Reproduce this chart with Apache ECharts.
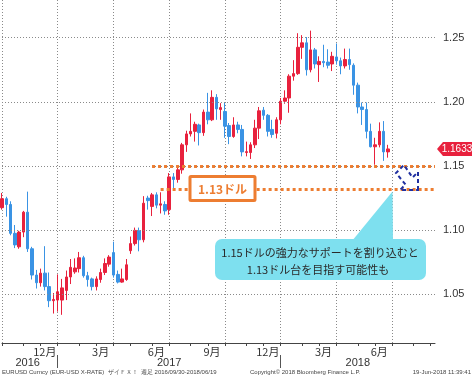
<!DOCTYPE html>
<html><head><meta charset="utf-8">
<script src="https://cdn.jsdelivr.net/npm/echarts@6/dist/echarts.min.js"></script>
<style>html,body{margin:0;padding:0;background:#fff}#c{width:475px;height:379px}</style>
</head><body><div id="c"></div>
<script>
// Week-ending dates (category axis), incl. empty future weeks to the right edge
const weeks = [
 '2016-09-30','2016-10-07','2016-10-14','2016-10-21','2016-10-28','2016-11-04','2016-11-11','2016-11-18','2016-11-25','2016-12-02',
 '2016-12-09','2016-12-16','2016-12-23','2016-12-30','2017-01-06','2017-01-13','2017-01-20','2017-01-27','2017-02-03','2017-02-10',
 '2017-02-17','2017-02-24','2017-03-03','2017-03-10','2017-03-17','2017-03-24','2017-03-31','2017-04-07','2017-04-14','2017-04-21',
 '2017-04-28','2017-05-05','2017-05-12','2017-05-19','2017-05-26','2017-06-02','2017-06-09','2017-06-16','2017-06-23','2017-06-30',
 '2017-07-07','2017-07-14','2017-07-21','2017-07-28','2017-08-04','2017-08-11','2017-08-18','2017-08-25','2017-09-01','2017-09-08',
 '2017-09-15','2017-09-22','2017-09-29','2017-10-06','2017-10-13','2017-10-20','2017-10-27','2017-11-03','2017-11-10','2017-11-17',
 '2017-11-24','2017-12-01','2017-12-08','2017-12-15','2017-12-22','2017-12-29','2018-01-05','2018-01-12','2018-01-19','2018-01-26',
 '2018-02-02','2018-02-09','2018-02-16','2018-02-23','2018-03-02','2018-03-09','2018-03-16','2018-03-23','2018-03-30','2018-04-06',
 '2018-04-13','2018-04-20','2018-04-27','2018-05-04','2018-05-11','2018-05-18','2018-05-25','2018-06-01','2018-06-08','2018-06-15',
 '2018-06-22','2018-06-29','2018-07-06','2018-07-13','2018-07-20','2018-07-27','2018-08-03','2018-08-10','2018-08-17','2018-08-24',
 '2018-08-31','2018-09-07'
];
const opens = [
 1.1175,1.1245,1.1200,1.0975,1.0870,1.0985,1.1140,1.0855,1.0650,1.0590,
 1.0665,1.0560,1.0450,1.0455,1.0455,1.0530,1.0635,1.0675,1.0700,1.0785,
 1.0645,1.0620,1.0560,1.0615,1.0670,1.0735,1.0825,1.0655,1.0595,1.0615,
 1.0840,1.0895,1.0995,1.0925,1.1250,1.1185,1.1275,1.1195,1.1200,1.1160,
 1.1415,1.1395,1.1470,1.1665,1.1750,1.1770,1.1820,1.1760,1.1920,1.1860,
 1.2035,1.1940,1.1925,1.1815,1.1730,1.1820,1.1785,1.1605,1.1605,1.1665,
 1.1795,1.1935,1.1895,1.1785,1.1755,1.1860,1.2005,1.2030,1.2200,1.2220,
 1.2425,1.2460,1.2250,1.2405,1.2290,1.2315,1.2310,1.2295,1.2350,1.2320,
 1.2280,1.2330,1.2285,1.2130,1.1960,1.1940,1.1770,1.1650,1.1665,1.1770,
 1.1610
];
const closes = [
 1.1245,1.1200,1.0975,1.0885,1.0985,1.1140,1.0855,1.0650,1.0590,1.0665,
 1.0560,1.0450,1.0460,1.0520,1.0550,1.0635,1.0710,1.0705,1.0785,1.0645,
 1.0615,1.0560,1.0620,1.0670,1.0740,1.0790,1.0650,1.0595,1.0620,1.0730,
 1.0895,1.0998,1.0925,1.1210,1.1230,1.1275,1.1195,1.1205,1.1150,1.1415,
 1.1395,1.1470,1.1665,1.1750,1.1770,1.1825,1.1760,1.1920,1.1860,1.2035,
 1.1945,1.1955,1.1810,1.1730,1.1820,1.1785,1.1610,1.1612,1.1665,1.1795,
 1.1930,1.1895,1.1770,1.1745,1.1860,1.2005,1.2030,1.2200,1.2220,1.2425,
 1.2460,1.2250,1.2405,1.2295,1.2315,1.2305,1.2285,1.2355,1.2320,1.2280,
 1.2330,1.2290,1.2130,1.1960,1.1940,1.1770,1.1650,1.1665,1.1770,1.1610,
 1.1633
];
const lows = [
 1.1160,1.1105,1.0960,1.0860,1.0855,1.0945,1.0830,1.0615,1.0545,1.0560,
 1.0530,1.0400,1.0350,1.0365,1.0340,1.0455,1.0580,1.0660,1.0670,1.0630,
 1.0560,1.0530,1.0530,1.0590,1.0650,1.0715,1.0630,1.0585,1.0590,1.0605,
 1.0815,1.0880,1.0835,1.0905,1.1160,1.1110,1.1170,1.1130,1.1120,1.1120,
 1.1315,1.1370,1.1440,1.1610,1.1730,1.1690,1.1660,1.1735,1.1825,1.1850,
 1.1860,1.1860,1.1720,1.1670,1.1720,1.1755,1.1575,1.1575,1.1555,1.1640,
 1.1710,1.1860,1.1730,1.1720,1.1715,1.1825,1.1985,1.1915,1.2165,1.2210,
 1.2335,1.2205,1.2230,1.2260,1.2155,1.2270,1.2260,1.2240,1.2290,1.2215,
 1.2260,1.2250,1.2055,1.1910,1.1820,1.1715,1.1645,1.1510,1.1645,1.1540,
 1.1565
];
const highs = [
 1.1290,1.1260,1.1225,1.1040,1.0995,1.1150,1.1300,1.0870,1.0690,1.0700,
 1.0875,1.0670,1.0510,1.0655,1.0620,1.0685,1.0775,1.0780,1.0830,1.0800,
 1.0675,1.0630,1.0640,1.0700,1.0780,1.0805,1.0910,1.0685,1.0700,1.0775,
 1.0950,1.1020,1.1020,1.1265,1.1268,1.1290,1.1295,1.1295,1.1225,1.1445,
 1.1445,1.1490,1.1680,1.1775,1.1910,1.1845,1.1830,1.1940,1.2070,1.2090,
 1.2060,1.1990,1.1995,1.1835,1.1880,1.1845,1.1820,1.1690,1.1685,1.1860,
 1.1960,1.1960,1.1905,1.1860,1.1880,1.2030,1.2090,1.2215,1.2325,1.2535,
 1.2520,1.2505,1.2555,1.2420,1.2355,1.2445,1.2410,1.2390,1.2455,1.2345,
 1.2415,1.2415,1.2300,1.2150,1.1995,1.1995,1.1830,1.1720,1.1840,1.1850,
 1.1665
];
const yTicks = [1.05, 1.10, 1.15, 1.20, 1.25];
const yRange = [1.01204, 1.27938];
const supportLevels = [1.15, 1.1318];
const supportFrom = ['2017-06-02', '2017-06-16'];
const calloutLines = ['1.15ドルの強力なサポートを割り込むと', '1.13ドル台を目指す可能性も'];
const boxLabel = '1.13ドル';
const footLeft = 'EURUSD Curncy (EUR-USD X-RATE)  ザイＦＸ！  週足 2016/09/30-2018/06/19';
const footMid = 'Copyright© 2018 Bloomberg Finance L.P.';
const footRight = '19-Jun-2018 11:39:41';

const UP = '#e8213d', DOWN = '#3a93e4', ORANGE = '#ed7d31';
const candles = opens.map((o, i) => [o, closes[i], lows[i], highs[i]]);
const lastClose = closes[closes.length - 1];

// axis helpers derived from categories
function shiftedMonth(s, days) {
  const d = new Date(s + 'T00:00:00Z'); d.setUTCDate(d.getUTCDate() + days);
  return [d.getUTCFullYear(), d.getUTCMonth() + 1];
}
const monthTick = new Set(), quarterLine = new Set(), yearSep = new Set();
weeks.forEach((w, i) => {
  const [, m] = shiftedMonth(w, 3), [, pm] = shiftedMonth(w, -4);
  if (m !== pm) { monthTick.add(i); if ([1,4,7,10].includes(m)) quarterLine.add(i); if (m === 1) yearSep.add(i); }
});
const monthLabel = new Set();
weeks.forEach((w, i) => { const m = +w.slice(5,7), d = +w.slice(8,10); if (m % 3 === 0 && d >= 8 && d <= 14) monthLabel.add(i); });
const bounds = [0, ...[...yearSep].sort((a,b)=>a-b), weeks.length - 1];
const yearLabel = new Map();
for (let k = 0; k < bounds.length - 1; k++) {
  const mid = Math.floor((bounds[k] + bounds[k+1]) / 2);
  yearLabel.set(mid, shiftedMonth(weeks[mid], 3)[0]);
}

const chart = echarts.init(document.getElementById('c'), null, {renderer: 'canvas'});
const gridLine = {color: '#8a8a8a', width: 1, type: [1, 2]};
chart.setOption({
  animation: false,
  backgroundColor: '#fff',
  textStyle: {fontFamily: 'Liberation Sans'},
  grid: {left: 2, right: 40, top: 0, bottom: 36, containLabel: false},
  xAxis: [{
    type: 'category', data: weeks, boundaryGap: false, position: 'bottom',
    axisLine: {lineStyle: {color: '#444', width: 1}},
    axisTick: {show: true, length: 3, interval: (i) => monthTick.has(i), lineStyle: {color: '#444'}},
    axisLabel: {interval: (i) => monthLabel.has(i), formatter: (v) => (+v.slice(5,7)) + '月',
      color: '#333', fontSize: 11, margin: 3, fontFamily: 'Noto Sans CJK JP'},
    splitLine: {show: true, interval: (i) => quarterLine.has(i), lineStyle: gridLine}
  }, {
    type: 'category', data: weeks, boundaryGap: false, position: 'bottom', offset: 12,
    axisLine: {show: false},
    axisTick: {show: true, length: 13, interval: (i) => yearSep.has(i), lineStyle: {color: '#555'}},
    axisLabel: {interval: (i) => yearLabel.has(i), formatter: (v, i) => String(yearLabel.get(i) ?? ''),
      color: '#333', fontSize: 11, margin: 2},
    splitLine: {show: false}
  }],
  yAxis: {
    type: 'value', position: 'right', min: yRange[0], max: yRange[1],
    splitLine: {show: false}, axisLine: {show: false}, axisTick: {show: false},
    axisLabel: {showMinLabel: false, showMaxLabel: false, formatter: (v) => v.toFixed(2),
      color: '#333', fontSize: 11, margin: 8}
  },
  series: [{
    type: 'line', data: [], z: 1, silent: true,
    markLine: {silent: true, symbol: ['none','none'], label: {show: false},
      lineStyle: gridLine, data: yTicks.map(v => ({yAxis: v}))}
  }, {
    type: 'candlestick', data: candles, barWidth: 3, clip: false, z: 3,
    itemStyle: {color: UP, color0: DOWN, borderColor: UP, borderColor0: DOWN, borderWidth: 1},
    markLine: {silent: true, symbol: ['none','none'], label: {show: false},
      lineStyle: {color: ORANGE, width: 3, type: [3, 3]},
      data: supportLevels.map((v, k) => [{coord: [supportFrom[k], v]}, {coord: [weeks[weeks.length-1], v]}])},
    markPoint: {silent: true, data: [{coord: [weeks.length - 1, lastClose]}],
      symbol: 'path://M0,6.5 L6,0 L35,0 L35,13 L6,13 Z', symbolSize: [35, 14], symbolKeepAspect: false,
      symbolOffset: [19.5, 0], itemStyle: {color: UP},
      label: {show: true, position: 'inside', offset: [2.5, 0], formatter: () => lastClose.toFixed(4),
        color: '#fff', fontSize: 10}}
  }],
  graphic: [
    {type: 'rect', shape: {x: 190, y: 176.5, width: 65, height: 24, r: 1},
      style: {fill: '#fff', stroke: ORANGE, lineWidth: 3}, z: 10},
    {type: 'text', x: 222.5, y: 189, style: {text: boxLabel, fill: ORANGE, align: 'center', verticalAlign: 'middle',
      font: 'bold 12px "Noto Sans CJK JP"'}, z: 11},
    {type: 'polygon', shape: {points: [[352, 241], [392.5, 191.5], [393, 241]]}, style: {fill: '#7ee0ef'}, z: 10},
    {type: 'rect', shape: {x: 215, y: 239, width: 211, height: 41, r: 7}, style: {fill: '#7ee0ef'}, z: 10},
    {type: 'text', x: 320, y: 253, style: {text: calloutLines[0], fill: '#2a2a2a', align: 'center', verticalAlign: 'middle',
      font: '11px "Noto Sans CJK JP"'}, z: 11},
    {type: 'text', x: 318, y: 269.5, style: {text: calloutLines[1], fill: '#2a2a2a', align: 'center', verticalAlign: 'middle',
      font: '11px "Noto Sans CJK JP"'}, z: 11},
    {type: 'polygon', shape: {points: [[418, 190], [418, 172], [412.5, 177.5], [404, 165], [396, 173], [405.5, 184.5], [400, 190]]},
      style: {fill: 'none', stroke: '#1f2fa0', lineWidth: 2, lineDash: [4, 3]}, z: 10},
    {type: 'text', x: 2, y: 372, style: {text: footLeft, fill: '#444', align: 'left', verticalAlign: 'middle', font: '6px "Liberation Sans"'}},
    {type: 'text', x: 250, y: 372, style: {text: footMid, fill: '#444', align: 'left', verticalAlign: 'middle', font: '6px "Liberation Sans"'}},
    {type: 'text', x: 471, y: 372, style: {text: footRight, fill: '#444', align: 'right', verticalAlign: 'middle', font: '6px "Liberation Sans"'}}
  ]
});
</script>
</body></html>
